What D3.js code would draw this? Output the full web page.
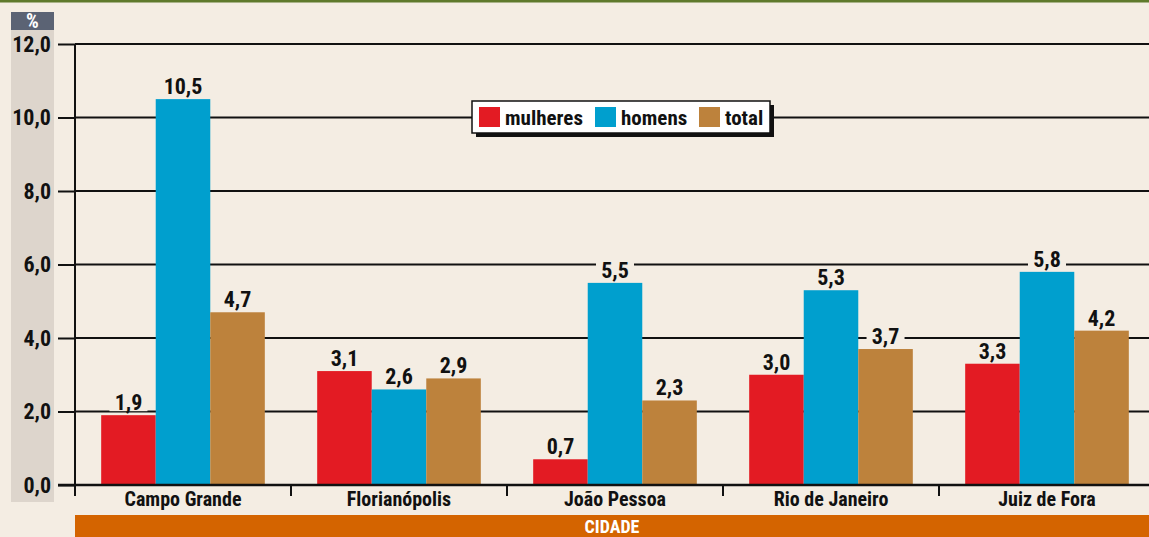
<!DOCTYPE html>
<html><head><meta charset="utf-8">
<script src="https://cdn.jsdelivr.net/npm/d3@7"></script>
<style>
html,body{margin:0;padding:0;background:#f4ede3;}
svg{display:block;}
text{font-family:"Liberation Sans Narrow","Roboto Condensed","Open Sans",sans-serif;font-weight:bold;}
</style></head>
<body><svg id="c" width="1149" height="537"></svg>
<script>
const categories = ["Campo Grande","Florianópolis","João Pessoa","Rio de Janeiro","Juiz de Fora"];
const seriesNames = ["mulheres","homens","total"];
const mulheres = [1.9,3.1,0.7,3.0,3.3];
const homens = [10.5,2.6,5.5,5.3,5.8];
const total = [4.7,2.9,2.3,3.7,4.2];
const yTicks = [0,2,4,6,8,10,12];
const colors = ["#e31b23","#009fce","#bd823c"];

const svg = d3.select("#c");
const W = 1149, H = 537;
const bg = "#f4ede3";
svg.append("rect").attr("width",W).attr("height",H).attr("fill",bg);
svg.append("rect").attr("x",0).attr("y",0).attr("width",W).attr("height",2.5).attr("fill","#5f7a2c");

// left band
svg.append("rect").attr("x",11).attr("y",30).attr("width",43).attr("height",472).attr("fill","#ddd5cc");
svg.append("rect").attr("x",11).attr("y",12).attr("width",43).attr("height",18).attr("fill","#5b6374");
svg.append("text").attr("x",32.5).attr("y",27.5).attr("text-anchor","middle").attr("fill","#fff").attr("font-size",20).text("%");

const x0 = 75;
const x = d3.scaleBand().domain(categories).range([x0, x0+216*5]).paddingInner(0).paddingOuter(0);
const y = d3.scaleLinear().domain([0,12]).range([485,44]);
const xs = d3.scaleBand().domain(seriesNames).range([0,216]).paddingInner(0).paddingOuter(0.48);

// gridlines
const yAxis = d3.axisLeft(y).tickValues(yTicks).tickFormat(d=>d3.format(".1f")(d).replace(".",",")).tickSize(17).tickPadding(7);
const gy = svg.append("g").attr("transform",`translate(${x0},0)`).call(yAxis);
gy.select(".domain").remove();
gy.selectAll(".tick line").attr("stroke","#111").attr("stroke-width",2);
gy.selectAll(".tick text").attr("font-size",22).attr("fill","#111");
svg.append("g").selectAll("line").data(yTicks).join("line")
  .attr("x1",x0).attr("x2",W).attr("y1",d=>y(d)).attr("y2",d=>y(d))
  .attr("stroke","#111").attr("stroke-width",2);
svg.append("line").attr("x1",x0).attr("x2",x0).attr("y1",y(12)).attr("y2",496).attr("stroke","#111").attr("stroke-width",2);

// bars
const data = categories.map((c,i)=>({c, vals:[mulheres[i],homens[i],total[i]]}));
const groups = svg.append("g").selectAll("g").data(data).join("g").attr("transform",d=>`translate(${x(d.c)},0)`);
groups.selectAll("rect.bar").data(d=>d.vals.map((v,j)=>({v,s:seriesNames[j],j}))).join("rect")
  .attr("class","bar").attr("x",d=>xs(d.s)).attr("width",xs.bandwidth()).attr("y",d=>y(d.v)).attr("height",d=>y(0)-y(d.v))
  .attr("fill",d=>colors[d.j]);
const lab = groups.selectAll("g.lab").data(d=>d.vals.map((v,j)=>({v,s:seriesNames[j],j}))).join("g").attr("class","lab")
  .attr("transform",d=>`translate(${xs(d.s)+xs.bandwidth()/2},${y(d.v)-4})`);
lab.append("rect").attr("x",d=>d.v>=10?-23:-19).attr("y",-20).attr("width",d=>d.v>=10?46:38).attr("height",20).attr("fill",bg);
lab.append("text").attr("text-anchor","middle").attr("y",-1).attr("font-size",22).attr("fill","#111")
  .text(d=>d3.format(".1f")(d.v).replace(".",","));

// x axis
const xAxis = d3.axisBottom(x).tickSize(0).tickPadding(7);
const gx = svg.append("g").attr("transform",`translate(0,${y(0)})`).call(xAxis);
gx.select(".domain").remove();
gx.selectAll(".tick text").attr("font-size",20).attr("fill","#111").attr("dy","0.71em");
svg.append("line").attr("x1",58).attr("x2",W).attr("y1",y(0)).attr("y2",y(0)).attr("stroke","#111").attr("stroke-width",2.5);
svg.append("g").selectAll("line").data(categories).join("line")
  .attr("x1",d=>x(d)).attr("x2",d=>x(d)).attr("y1",y(0)).attr("y2",496).attr("stroke","#111").attr("stroke-width",2);

// CIDADE bar
svg.append("rect").attr("x",x0).attr("y",515).attr("width",W-x0).attr("height",22).attr("fill","#d46400");
svg.append("text").attr("x",612).attr("y",533).attr("text-anchor","middle").attr("fill","#fff").attr("font-size",18).text("CIDADE");

// legend
const lg = svg.append("g").attr("transform","translate(472,101)");
lg.append("rect").attr("x",4).attr("y",4).attr("width",298).attr("height",32).attr("fill","#111");
lg.append("rect").attr("x",0).attr("y",0).attr("width",298).attr("height",32).attr("fill","#fff").attr("stroke","#111").attr("stroke-width",1.5);
const lx = [7,123,227];
seriesNames.forEach((s,i)=>{
  lg.append("rect").attr("x",lx[i]).attr("y",6).attr("width",21).attr("height",20).attr("fill",colors[i]);
  lg.append("text").attr("x",lx[i]+26).attr("y",23.5).attr("font-size",21).attr("fill","#111").text(s);
});
</script></body></html>
